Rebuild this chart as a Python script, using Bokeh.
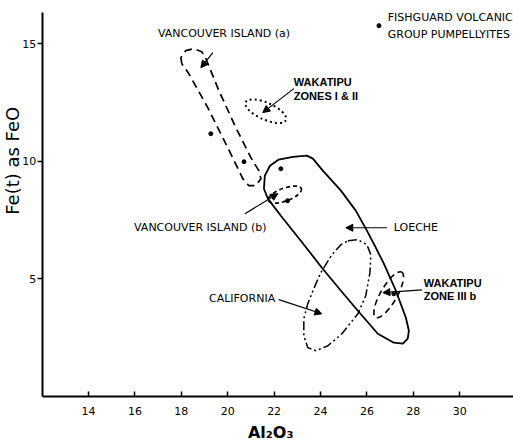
import math
from bokeh.plotting import figure
from bokeh.models import Range1d, FixedTicker, LinearAxis, Arrow, NormalHead, ColumnDataSource
from bokeh.core.properties import value
from bokeh.embed import file_html
from bokeh.resources import INLINE

FONT = "DejaVu Sans"

# ---- axis ticks ----
x_ticks = [14, 16, 18, 20, 22, 24, 26, 28, 30]
y_ticks = [5, 10, 15]

# ---- field outlines (Al2O3, FeO) ----
van_a_x = [18.02, 17.98, 18.19, 18.54, 18.88, 19.06, 19.62, 20.35, 21.00, 21.34, 21.43, 21.21, 20.91, 20.65, 20.00, 19.14, 18.32, 18.02]
van_a_y = [14.16, 14.42, 14.72, 14.80, 14.67, 14.37, 13.01, 11.44, 10.16, 9.61, 9.27, 8.97, 8.97, 9.27, 10.59, 12.29, 13.74, 14.16]

loeche_x = [21.56, 21.60, 21.82, 22.20, 22.81, 23.41, 23.67, 24.10, 24.88, 25.52, 26.00, 26.34, 26.73, 27.25, 27.68, 27.81, 27.76, 27.55, 27.16, 26.47, 25.61, 24.88, 24.06, 23.15, 22.29, 21.73, 21.56]
loeche_y = [8.84, 9.40, 9.82, 10.08, 10.20, 10.25, 10.12, 9.61, 8.76, 7.91, 7.06, 6.42, 5.65, 4.50, 3.35, 2.80, 2.46, 2.25, 2.29, 2.67, 3.65, 4.50, 5.48, 6.63, 7.69, 8.42, 8.84]

calif_x = [25.18, 25.61, 26.00, 26.17, 26.13, 25.95, 25.61, 24.92, 24.32, 23.80, 23.45, 23.28, 23.28, 23.45, 23.71, 24.01, 24.49, 24.88, 25.18]
calif_y = [6.63, 6.67, 6.46, 6.03, 5.27, 4.29, 3.52, 2.67, 2.16, 1.95, 2.08, 2.59, 3.31, 3.95, 4.59, 5.27, 6.03, 6.46, 6.63]

# elliptical fields: centre, full axes (data units), tilt (degrees)
wak12 = dict(x=[21.64], y=[12.14], w=[1.90], h=[0.72], a=[-24])
van_b = dict(x=[22.46], y=[8.59], w=[1.52], h=[0.55], a=[20])
wak3b = dict(x=[26.94], y=[4.33], w=[2.25], h=[0.70], a=[60])

# Fishguard Volcanic Group pumpellyites
fish_x = [19.27, 20.70, 22.29, 22.58, 27.16]
fish_y = [11.18, 9.99, 9.69, 8.33, 4.37]

# ---- annotations ----
labels = [
    ("VANCOUVER ISLAND (a)", 16.99, 15.46, "normal", "DejaVu Sans"),
    ("WAKATIPU", 22.85, 13.40, "bold", "Liberation Sans"),
    ("ZONES I & II", 22.85, 12.80, "bold", "Liberation Sans"),
    ("VANCOUVER ISLAND (b)", 15.96, 7.18, "normal", "DejaVu Sans"),
    ("LOECHE", 27.16, 7.18, "normal", "DejaVu Sans"),
    ("CALIFORNIA", 19.19, 4.16, "normal", "DejaVu Sans"),
    ("WAKATIPU", 28.45, 4.84, "bold", "Liberation Sans"),
    ("ZONE   III b", 28.45, 4.29, "bold", "Liberation Sans"),
    ("FISHGUARD VOLCANIC", 26.90, 16.12, "normal", "DejaVu Sans"),
    ("GROUP   PUMPELLYITES", 26.90, 15.40, "normal", "DejaVu Sans"),
]
arrows = [
    (19.36, 14.63, 18.84, 13.99),
    (22.85, 13.10, 21.51, 12.08),
    (20.74, 7.78, 22.16, 8.63),
    (26.86, 7.18, 25.09, 7.18),
    (22.20, 4.12, 24.06, 3.52),
    (28.37, 4.54, 26.69, 4.42),
]
legend_dot = (26.52, 15.78)
x_title = ("Al₂O₃", 21.85, -1.53)
y_title = ("Fe(t) as FeO", 10.72, 10.03)

X0, X1 = 12, 32.32
Y0, Y1 = 0, 16.34

p = figure(width=513, height=442, output_backend="svg", toolbar_location=None,
           x_range=Range1d(10.203, X1), y_range=Range1d(-1.957, 16.85),
           x_axis_location=None, y_axis_location=None, min_border=0)
p.title.visible = False
p.outline_line_color = None
p.grid.visible = False
p.background_fill_color = "white"
p.border_fill_color = "white"

xax = LinearAxis(fixed_location=Y0, bounds=(X0, X1), ticker=FixedTicker(ticks=x_ticks))
yax = LinearAxis(fixed_location=X0, bounds=(Y0, Y1), ticker=FixedTicker(ticks=y_ticks))
for ax in (xax, yax):
    ax.axis_line_width = 2
    ax.axis_line_color = "black"
    ax.major_tick_line_width = 1.5
    ax.major_tick_line_color = "black"
    ax.minor_tick_line_color = None
    ax.major_label_text_font = FONT
    ax.major_label_text_font_size = "11px"
    ax.major_label_text_color = "black"
xax.major_tick_in = 5
xax.major_tick_out = 0
xax.major_label_standoff = 10
yax.major_tick_in = 0
yax.major_tick_out = 5
yax.major_label_standoff = 1
p.add_layout(xax, "below")
p.add_layout(yax, "left")

# axis titles
p.text(x=[x_title[1]], y=[x_title[2]], text=[x_title[0]], text_font=value(FONT),
       text_font_size="16px", text_font_style="bold", text_align="center",
       text_baseline="middle", text_color="black")
p.text(x=[y_title[1]], y=[y_title[2]], text=[y_title[0]], angle=math.pi / 2,
       text_font=value(FONT), text_font_size="18px", text_align="center",
       text_baseline="middle", text_color="black")

# fields
p.line(van_a_x, van_a_y, line_color="black", line_width=1.7, line_dash="8 5")
p.line(loeche_x, loeche_y, line_color="black", line_width=1.8)
p.line(calif_x, calif_y, line_color="black", line_width=1.5, line_dash="9 3 2 3 2 3")
p.ellipse(x=wak12["x"], y=wak12["y"], width=wak12["w"], height=wak12["h"],
          angle=[math.radians(a) for a in wak12["a"]], fill_color=None,
          line_color="black", line_width=2, line_dash="2 3")
p.ellipse(x=van_b["x"], y=van_b["y"], width=van_b["w"], height=van_b["h"],
          angle=[math.radians(a) for a in van_b["a"]], fill_color=None,
          line_color="black", line_width=1.7, line_dash="4 3")
p.ellipse(x=wak3b["x"], y=wak3b["y"], width=wak3b["w"], height=wak3b["h"],
          angle=[math.radians(a) for a in wak3b["a"]], fill_color=None,
          line_color="black", line_width=1.6, line_dash="6 4")

p.scatter(fish_x, fish_y, size=4, color="black")
p.scatter([legend_dot[0]], [legend_dot[1]], size=4, color="black")

for (x0, y0, x1, y1) in arrows:
    p.add_layout(Arrow(x_start=x0, y_start=y0, x_end=x1, y_end=y1, line_width=1.2,
                       line_color="black",
                       end=NormalHead(size=7, fill_color="black", line_color="black")))

src = ColumnDataSource(dict(
    x=[l[1] for l in labels], y=[l[2] for l in labels],
    t=[l[0] for l in labels], s=[l[3] for l in labels], f=[l[4] for l in labels]))
p.text(x="x", y="y", text="t", source=src, text_font="f",
       text_font_size="11px", text_font_style="s", text_align="left",
       text_baseline="middle", text_color="black")

open("out.html", "w").write(file_html(p, INLINE))
